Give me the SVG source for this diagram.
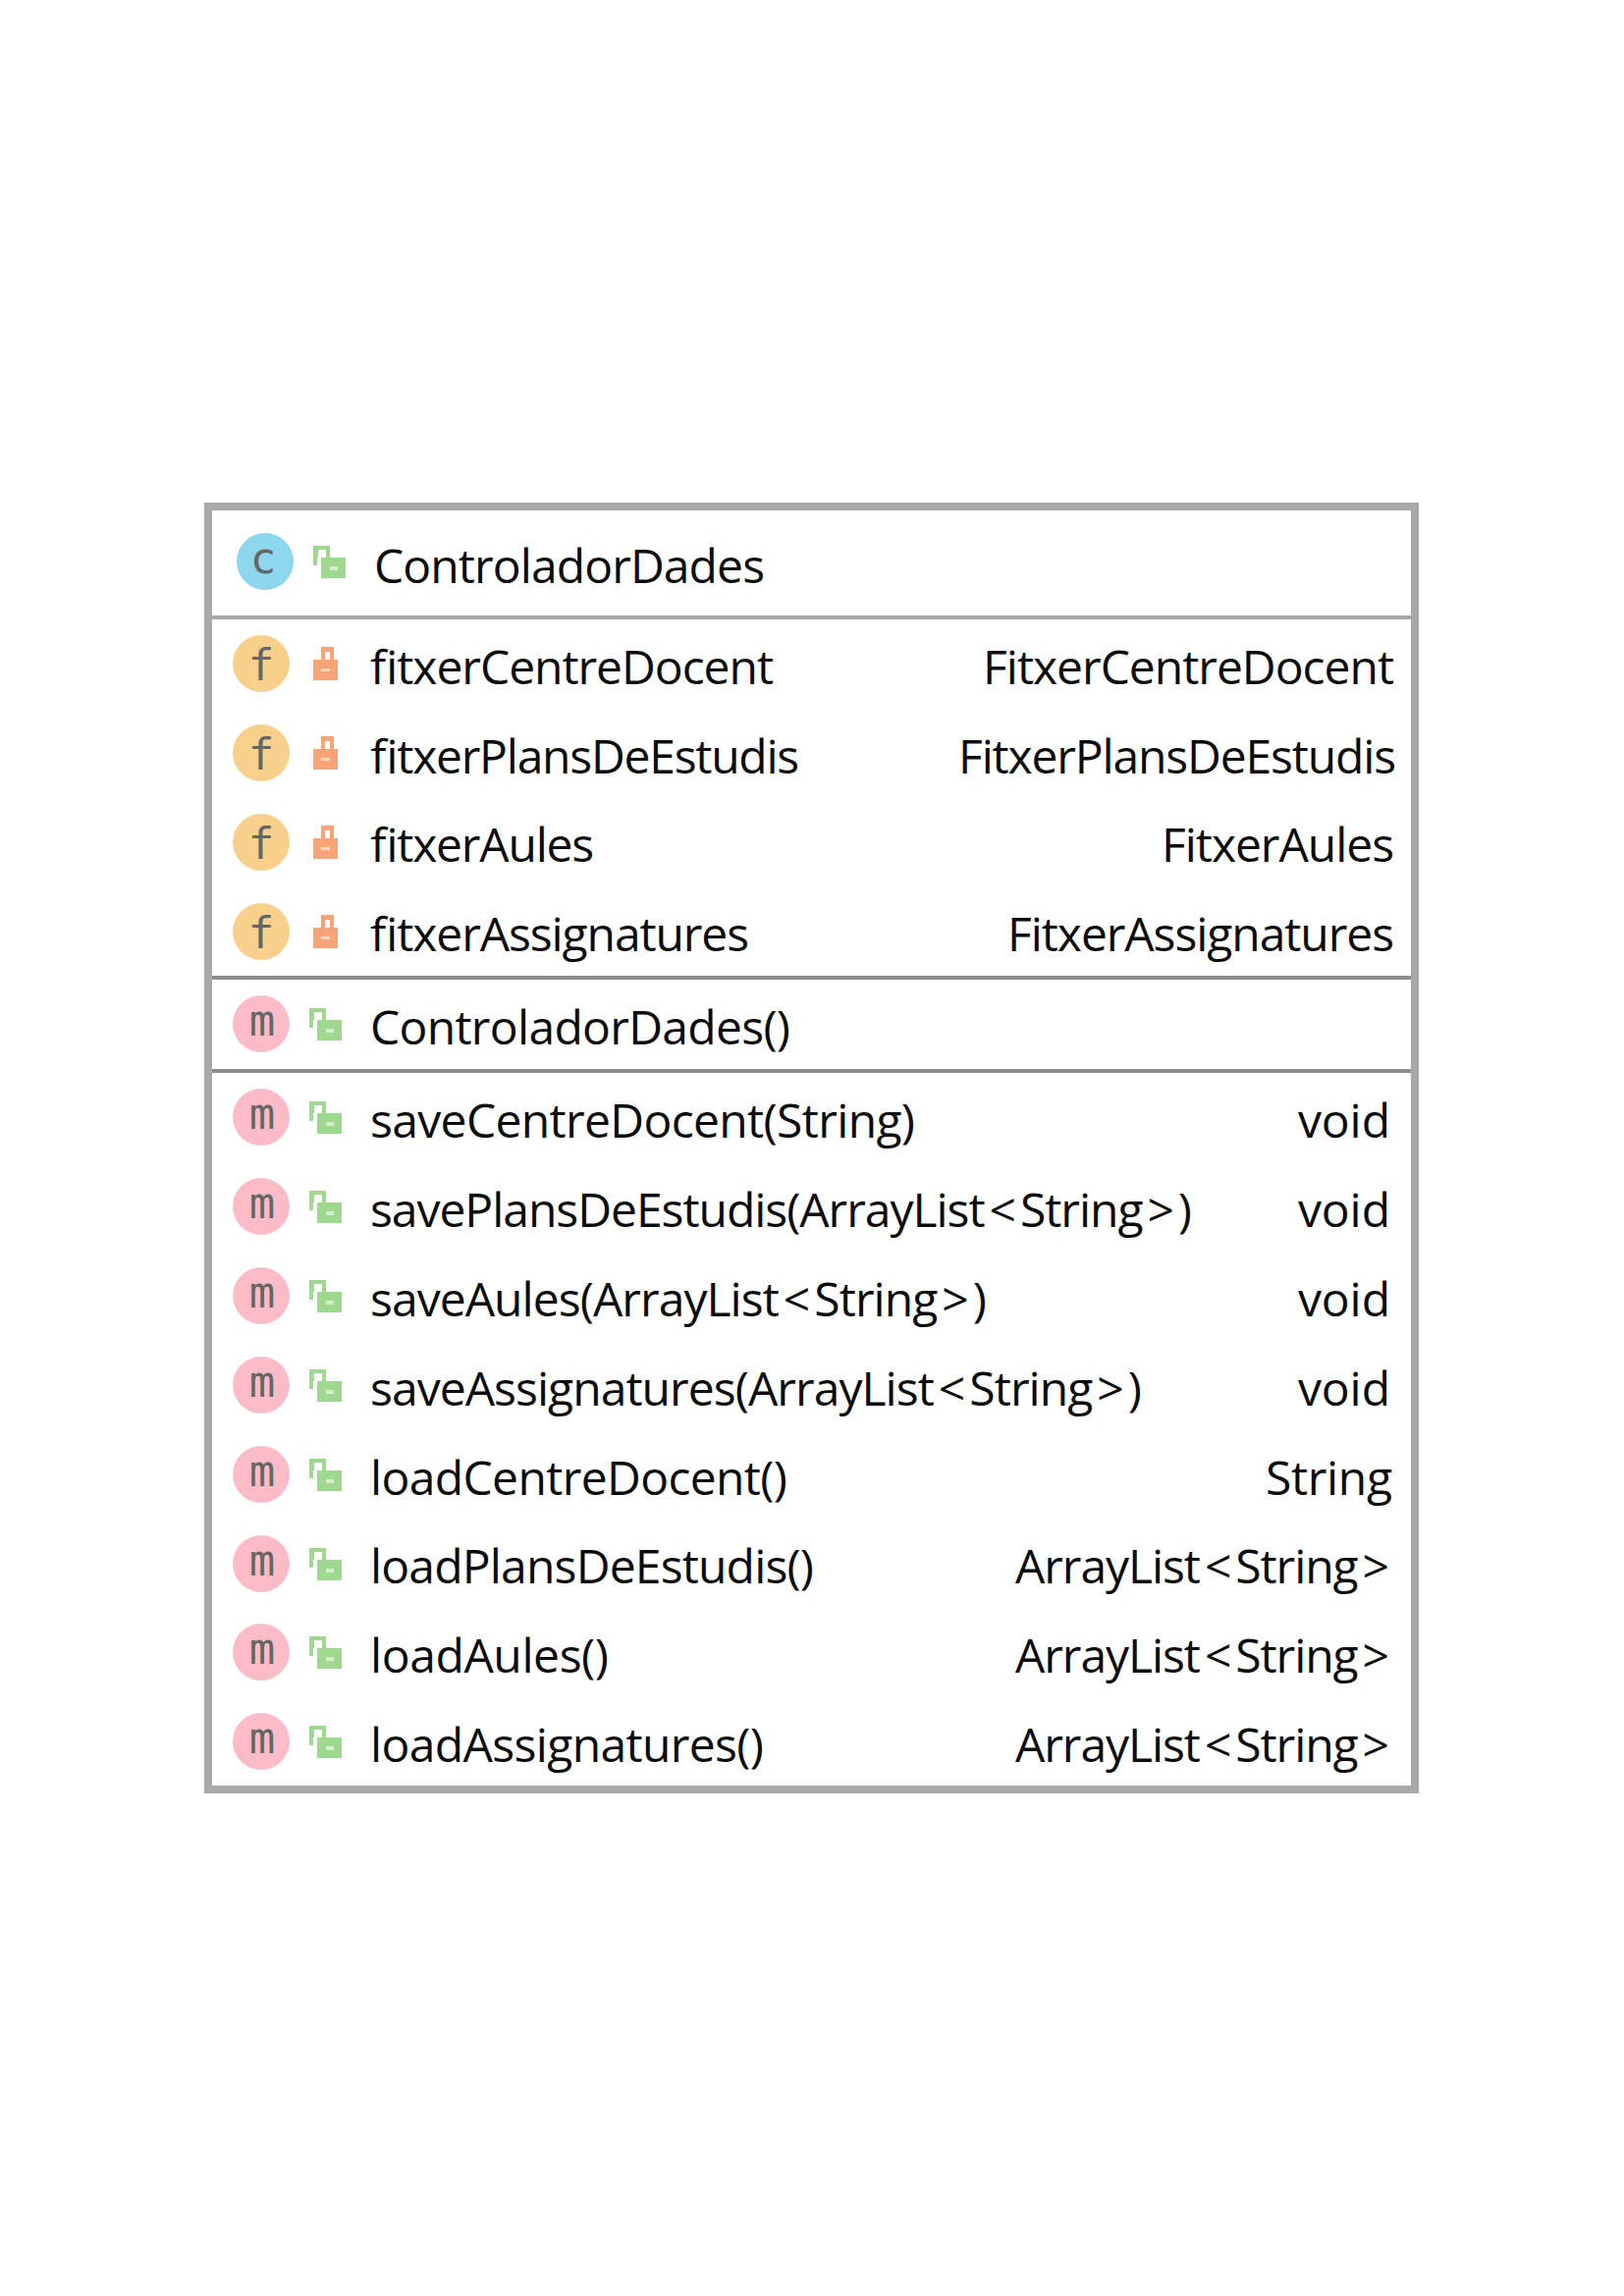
<svg xmlns="http://www.w3.org/2000/svg" xmlns:xlink="http://www.w3.org/1999/xlink" width="1654" height="2339" viewBox="0 0 1654 2339">
<style>
.t{font-family:"Open Sans","Noto Sans","Liberation Sans",sans-serif;font-size:48px;fill:#0c0c0c}
.g{font-family:"DejaVu Sans Mono","Liberation Mono",monospace;font-size:44px;fill:#666;text-anchor:middle}
.box{fill:#fff;stroke:#a8a8a8;stroke-width:8}
.d1{stroke:#a8a8a8;stroke-width:4}
.d2{stroke:#8e8e8e;stroke-width:4}
</style>
<defs>
<g id="pub">
<path d="M0-16H17V-4H13V-12H5V-4H4V4H0Z" fill="#9fd98f"/>
<rect x="8" y="-4" width="25" height="21" fill="#9fd98f"/>
<rect x="17" y="5" width="8" height="4" fill="#d4edcb"/>
</g>
<g id="pri">
<path d="M8-17H21V-4H17V-12H12V-4H8Z" fill="#f7a479"/>
<rect x="0" y="-4" width="25" height="21" fill="#f7a479"/>
<rect x="8" y="5" width="9" height="3" fill="#fbd5c0"/>
</g>
<g id="f"><circle r="29" fill="#f9cf8c"/><text class="g" y="17">f</text><use xlink:href="#pri" x="53"/></g>
<g id="m"><circle r="29" fill="#fbbcc8"/><text class="g" y="12" textLength="29" x="1">m</text><use xlink:href="#pub" x="49"/></g>
</defs>
<rect width="1654" height="2339" fill="#fff"/>
<g id="ControladorDades">
<rect class="box" x="212" y="516" width="1229" height="1307"/>
<line class="d1" x1="216" y1="629" x2="1437" y2="629"/>
<line class="d2" x1="216" y1="996" x2="1437" y2="996"/>
<line class="d2" x1="216" y1="1091" x2="1437" y2="1091"/>
<g id="class-header">
<circle cx="270" cy="572" r="29" fill="#8dd6ef"/><text class="g" x="268" y="584">c</text>
<use xlink:href="#pub" x="319" y="572"/>
<text class="t" x="381" y="594" textLength="398">ControladorDades</text>
</g>
<g id="fields">
<use xlink:href="#f" x="266" y="676"/><text class="t" x="376" y="697" textLength="411">fitxerCentreDocent</text><text class="t" x="1001" y="697" textLength="419">FitxerCentreDocent</text>
<use xlink:href="#f" x="266" y="767"/><text class="t" x="376" y="788" textLength="437">fitxerPlansDeEstudis</text><text class="t" x="976" y="788" textLength="446">FitxerPlansDeEstudis</text>
<use xlink:href="#f" x="266" y="858"/><text class="t" x="376" y="878" textLength="228">fitxerAules</text><text class="t" x="1183" y="878" textLength="237">FitxerAules</text>
<use xlink:href="#f" x="266" y="949"/><text class="t" x="376" y="969" textLength="386">fitxerAssignatures</text><text class="t" x="1026" y="969" textLength="394">FitxerAssignatures</text>
</g>
<g id="constructor">
<use xlink:href="#m" x="266" y="1043"/><text class="t" x="377" y="1064" textLength="428">ControladorDades()</text>
</g>
<g id="methods">
<use xlink:href="#m" x="266" y="1138"/><text class="t" x="377" y="1159" textLength="555">saveCentreDocent(String)</text><text class="t" x="1322" y="1159" textLength="94">void</text>
<use xlink:href="#m" x="266" y="1229"/><text class="t" x="377" y="1250" textLength="837">savePlansDeEstudis(ArrayList<tspan dx="5">&lt;</tspan><tspan dx="5">String</tspan><tspan dx="5">&gt;</tspan><tspan dx="5">)</tspan></text><text class="t" x="1322" y="1250" textLength="94">void</text>
<use xlink:href="#m" x="266" y="1320"/><text class="t" x="377" y="1341" textLength="628">saveAules(ArrayList<tspan dx="5">&lt;</tspan><tspan dx="5">String</tspan><tspan dx="5">&gt;</tspan><tspan dx="5">)</tspan></text><text class="t" x="1322" y="1341" textLength="94">void</text>
<use xlink:href="#m" x="266" y="1411"/><text class="t" x="377" y="1432" textLength="786">saveAssignatures(ArrayList<tspan dx="5">&lt;</tspan><tspan dx="5">String</tspan><tspan dx="5">&gt;</tspan><tspan dx="5">)</tspan></text><text class="t" x="1322" y="1432" textLength="94">void</text>
<use xlink:href="#m" x="266" y="1502"/><text class="t" x="377" y="1523" textLength="425">loadCentreDocent()</text><text class="t" x="1289" y="1523" textLength="129">String</text>
<use xlink:href="#m" x="266" y="1593"/><text class="t" x="377" y="1613" textLength="452">loadPlansDeEstudis()</text><text class="t" x="1034" y="1613" textLength="381">ArrayList<tspan dx="5">&lt;</tspan><tspan dx="5">String</tspan><tspan dx="5">&gt;</tspan></text>
<use xlink:href="#m" x="266" y="1683"/><text class="t" x="377" y="1704" textLength="243">loadAules()</text><text class="t" x="1034" y="1704" textLength="381">ArrayList<tspan dx="5">&lt;</tspan><tspan dx="5">String</tspan><tspan dx="5">&gt;</tspan></text>
<use xlink:href="#m" x="266" y="1774"/><text class="t" x="377" y="1795" textLength="401">loadAssignatures()</text><text class="t" x="1034" y="1795" textLength="381">ArrayList<tspan dx="5">&lt;</tspan><tspan dx="5">String</tspan><tspan dx="5">&gt;</tspan></text>
</g>
</g>
</svg>
